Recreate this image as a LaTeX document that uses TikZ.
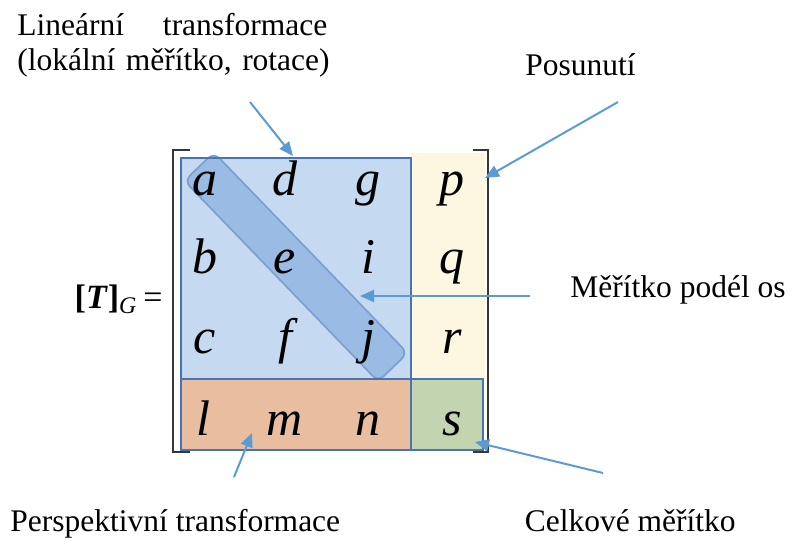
\documentclass[tikz,border=0pt]{standalone}
\usepackage{fontspec}
\setmainfont{Liberation Serif}
\usepackage{xcolor}
\definecolor{linblue}{RGB}{197,217,240}
\definecolor{bandblue}{RGB}{146,182,226}
\definecolor{bandedge}{RGB}{122,158,208}
\definecolor{boxblue}{RGB}{72,116,178}
\definecolor{posyellow}{RGB}{253,246,224}
\definecolor{perorange}{RGB}{232,189,160}
\definecolor{celkgreen}{RGB}{194,213,176}
\definecolor{arrowblue}{RGB}{91,155,213}
\definecolor{bracketgray}{RGB}{55,55,55}
\usepackage{tikz}
\usetikzlibrary{arrows.meta}

\begin{document}
\begin{tikzpicture}[x=0.5pt,y=-0.5pt,
  entry/.style={anchor=base,inner sep=0pt,font=\fontsize{25}{29}\selectfont\itshape},
  note/.style={inner sep=0pt,font=\fontsize{15.75}{17.5}\selectfont},
  pointer/.style={draw=arrowblue,line width=1pt,-{Triangle[length=7pt,width=6pt]}},
  outline/.style={draw=boxblue,line width=1pt},
  bracket/.style={draw=bracketgray,line width=1.2pt}]
  \useasboundingbox (0,0) rectangle (790,545);
  % Bloky matice
  \fill[linblue] (181,158) rectangle (411,379);
  \fill[posyellow] (411,153) rectangle (485,379);
  \fill[perorange] (181,379) rectangle (411,450);
  \fill[celkgreen] (411,379) rectangle (483,450);
  % Diagonala (meritko podel os)
  \node[draw=bandedge,fill=bandblue,fill opacity=.85,line width=.8pt,rounded corners=4pt,
        minimum width=139.5pt,minimum height=20.5pt,rotate=-46] (diag) at (296,267) {};
  % Obrysy a zavorky
  \draw[outline] (181,158) rectangle (411,379);
  \draw[outline] (181,379) rectangle (483,450);
  \draw[outline] (411,379) -- (411,450);
  \draw[bracket] (190,150) -- (173,150) -- (173,452) -- (190,452);
  \draw[bracket] (473,150) -- (488,150) -- (488,452) -- (473,452);
  % Prvky matice (sloupec x, uctari y)
  \foreach \ent/\cx/\ry in {a/205/195,d/285/195,g/368/195,p/452/195,
                            b/205/273,e/285/273,i/368/273,q/452/273,
                            c/205/353,f/285/353,j/368/353,r/452/353,
                            l/203/435,m/285/435,n/368/435,s/452/435}
    \node[entry] (el-\ent) at (\cx,\ry) {\ent};
  \node[anchor=base east,inner sep=0pt,font=\fontsize{17}{20}\selectfont] (tg) at (163,308)
    {\textbf{[\textit{T}]}\textsubscript{\textit{G}}\hspace{3pt}=};
  % Popisky
  \node[note,anchor=north west,text width=155pt,align=left] (linlbl) at (17,13)
    {Lineární\hfill transformace\\\mbox{(lokální měřítko, rotace)}};
  \node[note,anchor=base west] (poslbl) at (525,76) {Posunutí};
  \node[note,anchor=base west] (osylbl) at (570,297) {Měřítko podél os};
  \node[note,anchor=base west] (perlbl) at (10,531) {Perspektivní transformace};
  \node[note,anchor=base east] (celklbl) at (736,531) {Celkové měřítko};
  % Sipky
  \coordinate (linTail) at (250,102);  \coordinate (linTip) at (293,156);
  \coordinate (posTail) at (618,102);  \coordinate (posTip) at (485,178);
  \coordinate (osyTail) at (530,296);  \coordinate (osyTip) at (360,296);
  \coordinate (perTail) at (234,477);  \coordinate (perTip) at (252,433);
  \coordinate (celkTail) at (603,473); \coordinate (celkTip) at (475,442);
  \foreach \a in {lin,pos,osy,per,celk}
    \draw[pointer] (\a Tail) -- (\a Tip);
\end{tikzpicture}
\end{document}
